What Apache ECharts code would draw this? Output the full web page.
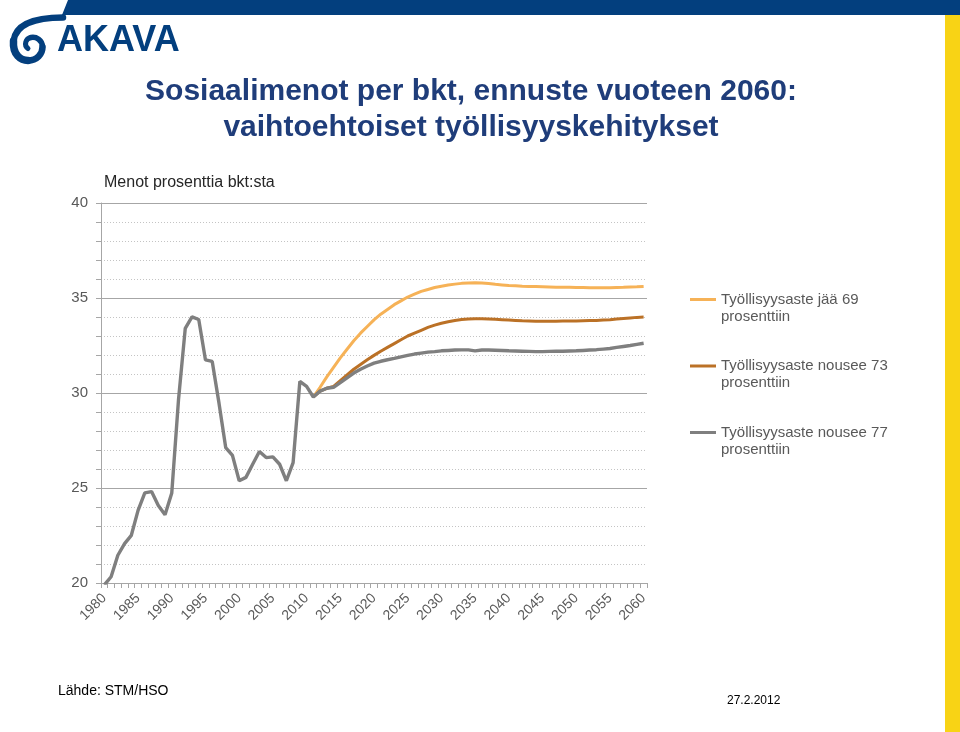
<!DOCTYPE html>
<html>
<head>
<meta charset="utf-8">
<script src="https://cdn.jsdelivr.net/npm/echarts@6/dist/echarts.min.js"></script>
<style>
html,body{margin:0;padding:0;background:#fff;}
#chart{width:960px;height:732px;}
</style>
</head>
<body>
<div id="chart"></div>
<script>
const years = [
  '1980','1981','1982','1983','1984','1985','1986','1987','1988','1989',
  '1990','1991','1992','1993','1994','1995','1996','1997','1998','1999',
  '2000','2001','2002','2003','2004','2005','2006','2007','2008','2009',
  '2010','2011','2012','2013','2014','2015','2016','2017','2018','2019',
  '2020','2021','2022','2023','2024','2025','2026','2027','2028','2029',
  '2030','2031','2032','2033','2034','2035','2036','2037','2038','2039',
  '2040','2041','2042','2043','2044','2045','2046','2047','2048','2049',
  '2050','2051','2052','2053','2054','2055','2056','2057','2058','2059','2060'
];

// Historical values 1980-2011
const history = [
  19.9, 20.33, 21.46, 22.07, 22.51, 23.82, 24.74, 24.81, 24.08, 23.59,
  24.74, 29.65, 33.40, 34.01, 33.87, 31.74, 31.66, 29.48, 27.13, 26.72,
  25.38, 25.56, 26.25, 26.92, 26.60, 26.64, 26.25, 25.38, 26.34, 30.61,
  30.35, 29.79
];

// Forecast 2012-2060
const forecast69 = [
  30.3, 30.85, 31.35, 31.85, 32.3, 32.75, 33.15, 33.5, 33.85,
  34.15, 34.4, 34.65, 34.85, 35.05, 35.2, 35.35, 35.45, 35.55, 35.62,
  35.68, 35.73, 35.77, 35.79, 35.8, 35.79, 35.76, 35.72, 35.69, 35.66,
  35.64, 35.62, 35.61, 35.6, 35.59, 35.58, 35.57, 35.56, 35.56, 35.55,
  35.55, 35.54, 35.54, 35.54, 35.54, 35.55, 35.56, 35.58, 35.59, 35.61
];
const forecast73 = [
  30.1, 30.25, 30.35, 30.65, 30.95, 31.25, 31.5, 31.75, 31.98,
  32.2, 32.4, 32.6, 32.8, 33.0, 33.15, 33.3, 33.45, 33.57, 33.67,
  33.75, 33.82, 33.87, 33.9, 33.91, 33.91, 33.9, 33.88, 33.86, 33.84,
  33.82, 33.8, 33.79, 33.78, 33.78, 33.78, 33.78, 33.79, 33.79, 33.79,
  33.8, 33.81, 33.82, 33.84, 33.86, 33.89, 33.92, 33.95, 33.98, 34.0
];
const forecast77 = [
  30.1, 30.25, 30.3, 30.55, 30.8, 31.05, 31.25, 31.42, 31.57,
  31.67, 31.75, 31.82, 31.9, 31.98, 32.05, 32.1, 32.15, 32.18, 32.22,
  32.24, 32.26, 32.27, 32.27, 32.22, 32.26, 32.26, 32.25, 32.24, 32.22,
  32.21, 32.2, 32.19, 32.18, 32.18, 32.19, 32.2, 32.2, 32.21, 32.22,
  32.24, 32.26, 32.28, 32.31, 32.34, 32.4, 32.45, 32.5, 32.56, 32.62
];

const seriesNames = [
  'Työllisyysaste jää 69 prosenttiin',
  'Työllisyysaste nousee 73 prosenttiin',
  'Työllisyysaste nousee 77 prosenttiin'
];
const yTicks = [20, 25, 30, 35, 40];

// Scenarios start from the last historical point
const lastIdx = history.length - 1;
function scenario(fc) {
  const arr = history.map((v, i) => (i === lastIdx ? v : null));
  return arr.concat(fc);
}
const s69 = scenario(forecast69);
const s73 = scenario(forecast73);
const s77 = history.concat(forecast77);

const chart = echarts.init(document.getElementById('chart'), null, {renderer: 'canvas'});
const FONT = "'Liberation Sans', Arial, sans-serif";
const LOGO = '#033F7E';

function bez(p, w) {
  return {type: 'bezierCurve', silent: true,
    shape: {x1: p[0], y1: p[1], cpx1: p[2], cpy1: p[3], cpx2: p[4], cpy2: p[5], x2: p[6], y2: p[7]},
    style: {fill: null, stroke: LOGO, lineWidth: w, lineCap: 'round'}};
}

chart.setOption({
  animation: false,
  backgroundColor: '#ffffff',
  textStyle: {fontFamily: FONT},
  grid: {left: 101, top: 203, width: 546, height: 380, containLabel: false},
  legend: {
    data: seriesNames,
    orient: 'vertical',
    left: 690,
    top: 274,
    padding: 0,
    itemWidth: 26,
    itemHeight: 3,
    itemGap: 15.5,
    icon: 'rect',
    selectedMode: false,
    formatter: function (name) {
      return '\n' + name.replace(' prosenttiin', '\nprosenttiin');
    },
    textStyle: {fontSize: 15, color: '#595959', lineHeight: 17, fontFamily: FONT}
  },
  xAxis: {
    type: 'category',
    data: years,
    boundaryGap: true,
    axisLine: {show: true, lineStyle: {color: '#a6a6a6', width: 1}},
    axisTick: {show: true, interval: 0, length: 5, lineStyle: {color: '#a6a6a6'}},
    axisLabel: {interval: 4, rotate: 45, fontSize: 14, color: '#595959', margin: 13, fontFamily: FONT},
    splitLine: {show: false}
  },
  yAxis: {
    type: 'value',
    min: yTicks[0],
    max: yTicks[yTicks.length - 1],
    interval: 5,
    axisLine: {show: true, lineStyle: {color: '#a6a6a6', width: 1}},
    axisTick: {show: true, length: 5, lineStyle: {color: '#a6a6a6'}},
    minorTick: {show: true, splitNumber: 5, length: 5, lineStyle: {color: '#a6a6a6'}},
    axisLabel: {fontSize: 15, color: '#595959', margin: 13, fontFamily: FONT},
    splitLine: {show: true, lineStyle: {color: '#a6a6a6', width: 1}},
    minorSplitLine: {show: true, lineStyle: {color: '#c4c4c4', width: 1, type: [1, 2]}}
  },
  series: [
    {
      name: seriesNames[0], type: 'line', data: s69, symbol: 'none', showSymbol: false,
      connectNulls: false, z: 2,
      itemStyle: {color: '#F6B257'},
      lineStyle: {color: '#F6B257', width: 3}
    },
    {
      name: seriesNames[1], type: 'line', data: s73, symbol: 'none', showSymbol: false,
      connectNulls: false, z: 3,
      itemStyle: {color: '#BB7126'},
      lineStyle: {color: '#BB7126', width: 3}
    },
    {
      name: seriesNames[2], type: 'line', data: s77, symbol: 'none', showSymbol: false,
      z: 4,
      itemStyle: {color: '#7F7F7F'},
      lineStyle: {color: '#7F7F7F', width: 3.4}
    }
  ],
  graphic: [
    {type: 'polygon', shape: {points: [[68, 0], [960, 0], [960, 15], [62, 15]]},
     style: {fill: LOGO}, silent: true},
    {type: 'rect', shape: {x: 945, y: 15, width: 15, height: 717},
     style: {fill: '#F8D315'}, silent: true},
    bez([63, 17.5, 40, 17.5, 16, 22, 13.5, 41], 6.5),
    bez([13.5, 41, 12.5, 55, 21, 60.5, 28, 60.5], 7.5),
    bez([28, 60.5, 37, 60.5, 42.5, 54, 42.5, 47], 6.5),
    bez([42.5, 47, 42.5, 40, 36, 36.5, 31, 37.5], 5.5),
    bez([31, 37.5, 25.5, 38.5, 23.5, 45, 28, 48.5], 5),
    {type: 'text', x: 57, y: 42, silent: true, scaleX: 1.0, scaleY: 1.04, originX: 57, originY: 42,
     style: {text: 'AKAVA', fill: LOGO, align: 'left', verticalAlign: 'middle',
             font: "bold 36px 'Liberation Sans', Arial, sans-serif"}},
    {type: 'text', x: 471, y: 92, silent: true,
     style: {text: 'Sosiaalimenot per bkt, ennuste vuoteen 2060:', fill: '#1F3D7A',
             font: "bold 30px 'Liberation Sans', Arial, sans-serif", align: 'center', verticalAlign: 'middle'}},
    {type: 'text', x: 471, y: 128, silent: true,
     style: {text: 'vaihtoehtoiset työllisyyskehitykset', fill: '#1F3D7A',
             font: "bold 30px 'Liberation Sans', Arial, sans-serif", align: 'center', verticalAlign: 'middle'}},
    {type: 'text', x: 104, y: 183, silent: true,
     style: {text: 'Menot prosenttia bkt:sta', fill: '#262626',
             font: "16px 'Liberation Sans', Arial, sans-serif", align: 'left', verticalAlign: 'middle'}},
    {type: 'text', x: 58, y: 691, silent: true,
     style: {text: 'Lähde: STM/HSO', fill: '#000000',
             font: "14px 'Liberation Sans', Arial, sans-serif", align: 'left', verticalAlign: 'middle'}},
    {type: 'text', x: 727, y: 701, silent: true,
     style: {text: '27.2.2012', fill: '#000000',
             font: "12px 'Liberation Sans', Arial, sans-serif", align: 'left', verticalAlign: 'middle'}}
  ]
});
</script>
</body>
</html>
